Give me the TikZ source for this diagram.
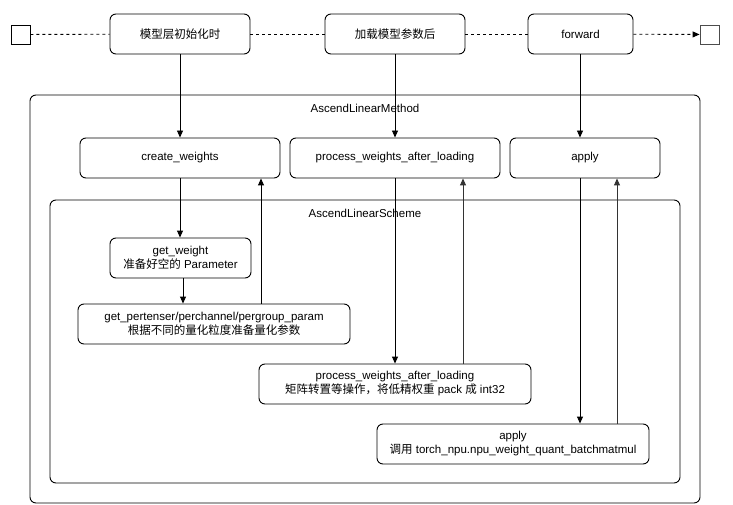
\documentclass[tikz,border=0pt]{standalone}
\usepackage{fontspec}
\setmainfont{Liberation Sans}
\newfontfamily\cjk{Noto Sans CJK SC}
\usetikzlibrary{arrows.meta}
\begin{document}
\begin{tikzpicture}[x=1pt,y=-1pt,
  font=\fontsize{11.5}{14}\selectfont,
  line width=0.9pt,
  box/.style={draw, rounded corners=6pt, align=center, inner sep=2pt},
  frame/.style={draw, rounded corners=6pt},
  sq/.style={draw, minimum width=19pt, minimum height=19pt, inner sep=0pt},
  arr/.style={-{Triangle[length=7pt,width=6pt]}},
  flow/.style={dashed, dash pattern=on 3pt off 3pt},
  upline/.style={draw=black!80}]
\useasboundingbox (0,0) rectangle (733,505);
% top row
\node[sq] (sl) at (20.5,34.5) {};
\node[sq, draw=black!70] (sr) at (709.5,34.5) {};
\node[box, minimum width=140pt, minimum height=40pt] (t1) at (180,34) {{\cjk 模型层初始化时}};
\node[box, minimum width=140pt, minimum height=40pt] (t2) at (395,34) {{\cjk 加载模型参数后}};
\node[box, minimum width=105pt, minimum height=40pt] (t3) at (580.5,34) {forward};
\draw[flow] (sl) -- (t1);
\draw[flow] (t1) -- (t2);
\draw[flow] (t2) -- (t3);
\draw[flow, arr] (t3) -- (sr);
% outer frame
\node[frame, minimum width=670pt, minimum height=408pt] (outer) at (365,299) {};
\node (olab) at (365,108) {AscendLinearMethod};
\node[box, minimum width=200pt, minimum height=40pt] (cw) at (180,158) {create\_weights};
\node[box, minimum width=210pt, minimum height=40pt] (pw) at (395,158) {process\_weights\_after\_loading};
\node[box, minimum width=150pt, minimum height=40pt] (ap) at (585,158) {apply};
% inner frame
\node[frame, minimum width=630pt, minimum height=283pt] (inner) at (365,341.5) {};
\node (ilab) at (365,213) {AscendLinearScheme};
\node[box, minimum width=141pt, minimum height=40pt] (gw) at (180.5,258) {get\_weight\\{\cjk 准备好空的} Parameter};
\node[box, minimum width=272pt, minimum height=40pt] (gp) at (214,324) {get\_pertenser/perchannel/pergroup\_param\\{\cjk 根据不同的量化粒度准备量化参数}};
\node[box, minimum width=272pt, minimum height=40pt] (pw2) at (395,384) {process\_weights\_after\_loading\\{\cjk 矩阵转置等操作，将低精权重} pack {\cjk 成} int32};
\node[box, minimum width=272pt, minimum height=40pt] (ap2) at (513,444) {apply\\{\cjk 调用} torch\_npu.npu\_weight\_quant\_batchmatmul};
% coordinates for offset connectors
\coordinate (x1) at (180,0);
\coordinate (x2) at (183,0);
\coordinate (x3) at (261,0);
\coordinate (x4) at (395,0);
\coordinate (x5) at (463,0);
\coordinate (x6) at (580,0);
\coordinate (x7) at (617,0);
% connectors
\draw[arr] (t1.south -| x1) -- (cw.north -| x1);
\draw[arr] (t2.south -| x4) -- (pw.north -| x4);
\draw[arr] (t3.south -| x6) -- (ap.north -| x6);
\draw[arr] (cw.south -| x1) -- (gw.north -| x1);
\draw[arr] (gw.south -| x2) -- (gp.north -| x2);
\draw[arr] (gp.north -| x3) -- (cw.south -| x3);
\draw[arr] (pw.south -| x4) -- (pw2.north -| x4);
\draw[arr, upline] (pw2.north -| x5) -- (pw.south -| x5);
\draw[arr] (ap.south -| x6) -- (ap2.north -| x6);
\draw[arr, upline] (ap2.north -| x7) -- (ap.south -| x7);
\end{tikzpicture}
\end{document}
